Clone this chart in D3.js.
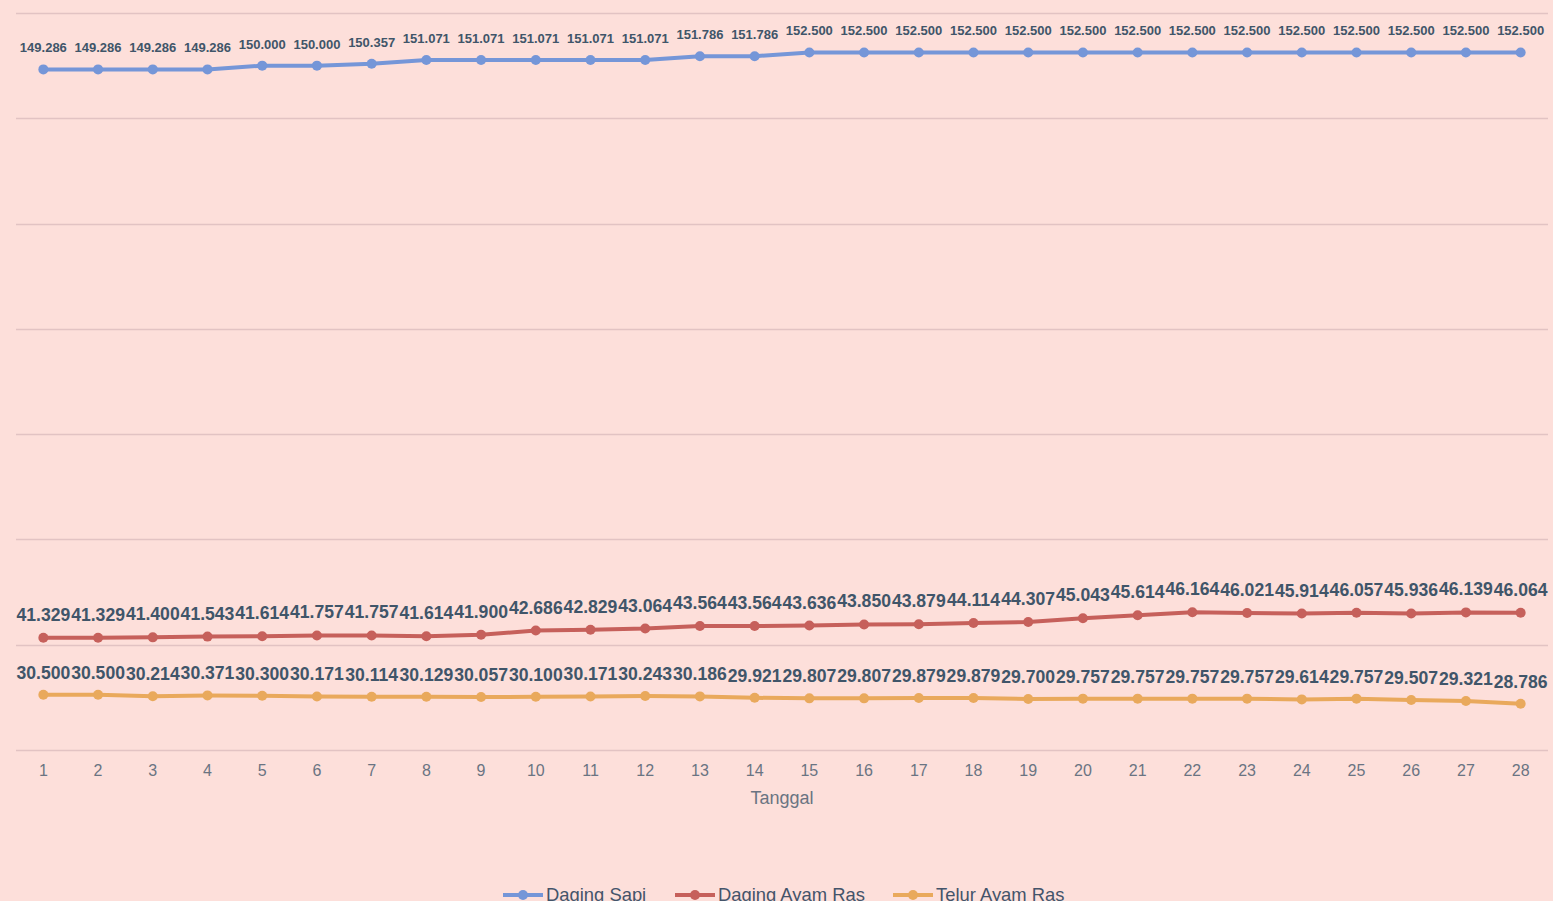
<!DOCTYPE html>
<html>
<head>
<meta charset="utf-8">
<script src="https://cdn.jsdelivr.net/npm/d3@7"></script>
<style>
  html, body { margin: 0; padding: 0; background: #fddfda; overflow: hidden; }
  svg { display: block; font-family: "Liberation Sans", Arial, sans-serif; }
</style>
</head>
<body>
<div id="chart"></div>
<script>
const days = d3.range(1, 29).map(String);

const dagingSapi = [149286, 149286, 149286, 149286, 150000, 150000, 150357, 151071, 151071, 151071,
    151071, 151071, 151786, 151786, 152500, 152500, 152500, 152500, 152500, 152500,
    152500, 152500, 152500, 152500, 152500, 152500, 152500, 152500];

const dagingAyam = [41329, 41329, 41400, 41543, 41614, 41757, 41757, 41614, 41900, 42686,
    42829, 43064, 43564, 43564, 43636, 43850, 43879, 44114, 44307, 45043,
    45614, 46164, 46021, 45914, 46057, 45936, 46139, 46064];

const telurAyam = [30500, 30500, 30214, 30371, 30300, 30171, 30114, 30129, 30057, 30100,
    30171, 30243, 30186, 29921, 29807, 29807, 29879, 29879, 29700, 29757,
    29757, 29757, 29757, 29614, 29757, 29507, 29321, 28786];

const seriesNames = ['Daging Sapi', 'Daging Ayam Ras', 'Telur Ayam Ras'];
const yTicks = [20000, 40000, 60000, 80000, 100000, 120000, 140000, 160000];

const series = [
    { name: seriesNames[0], values: dagingSapi, color: '#7596d8', labelSize: 13, labelDy: -17 },
    { name: seriesNames[1], values: dagingAyam, color: '#c6605b', labelSize: 17.6, labelDy: -17 },
    { name: seriesNames[2], values: telurAyam, color: '#e9a95c', labelSize: 17.6, labelDy: -16 },
];

const width = 1553;
const height = 901;
const margin = { left: 16, right: 5, top: 13, bottom: 151 };

const idr = d3.formatLocale({ decimal: ',', thousands: '.', grouping: [3], currency: ['Rp', ''] });
const fmt = idr.format(',d');

const svg = d3.select('#chart')
    .append('svg')
    .attr('width', width)
    .attr('height', height);

const x = d3.scaleBand()
    .domain(days)
    .range([margin.left, width - margin.right]);

const y = d3.scaleLinear()
    .domain([20000, 160000])
    .range([height - margin.bottom, margin.top]);

// gridlines
svg.append('g')
    .selectAll('line')
    .data(yTicks)
    .enter()
    .append('line')
    .attr('x1', margin.left)
    .attr('x2', width - margin.right)
    .attr('y1', d => Math.round(y(d)) + 0.5)
    .attr('y2', d => Math.round(y(d)) + 0.5)
    .attr('stroke', '#e2c3c3')
    .attr('stroke-width', 1.5);

// x axis labels
const xAxis = svg.append('g')
    .attr('transform', `translate(0,${height - margin.bottom})`)
    .call(d3.axisBottom(x).tickSize(0).tickPadding(15));
xAxis.select('.domain').remove();
xAxis.selectAll('text')
    .attr('font-family', '"Liberation Sans Narrow", "Liberation Sans", Arial, sans-serif')
    .attr('font-size', 16)
    .attr('fill', '#6a7482');

svg.append('text')
    .attr('x', (margin.left + width - margin.right) / 2)
    .attr('y', 804)
    .attr('text-anchor', 'middle')
    .attr('font-family', '"Liberation Sans Narrow", "Liberation Sans", Arial, sans-serif')
    .attr('font-size', 18)
    .attr('fill', '#6a7482')
    .text('Tanggal');

const line = d3.line()
    .x((d, i) => x(days[i]) + x.bandwidth() / 2)
    .y(d => y(d));

series.forEach(s => {
    const g = svg.append('g');
    g.append('path')
        .datum(s.values)
        .attr('d', line)
        .attr('fill', 'none')
        .attr('stroke', s.color)
        .attr('stroke-width', 4)
        .attr('stroke-linejoin', 'round');

    g.selectAll('circle')
        .data(s.values)
        .enter()
        .append('circle')
        .attr('cx', (d, i) => x(days[i]) + x.bandwidth() / 2)
        .attr('cy', d => y(d))
        .attr('r', 5)
        .attr('fill', s.color);

    g.selectAll('text')
        .data(s.values)
        .enter()
        .append('text')
        .attr('x', (d, i) => x(days[i]) + x.bandwidth() / 2)
        .attr('y', d => y(d) + s.labelDy)
        .attr('text-anchor', 'middle')
        .attr('font-size', s.labelSize)
        .attr('font-weight', 'bold')
        .attr('fill', '#405569')
        .text(d => fmt(d));
});

// legend
const legendX = [503, 675, 893];
const legend = svg.append('g');
series.forEach((s, i) => {
    const lg = legend.append('g').attr('transform', `translate(${legendX[i]},895)`);
    lg.append('line')
        .attr('x1', 0).attr('x2', 40)
        .attr('y1', 0).attr('y2', 0)
        .attr('stroke', s.color)
        .attr('stroke-width', 4);
    lg.append('circle')
        .attr('cx', 20).attr('cy', 0).attr('r', 5)
        .attr('fill', s.color);
    lg.append('text')
        .attr('x', 43)
        .attr('y', 6)
        .attr('font-size', 18.4)
        .attr('fill', '#44546a')
        .text(s.name);
});
</script>
</body>
</html>
